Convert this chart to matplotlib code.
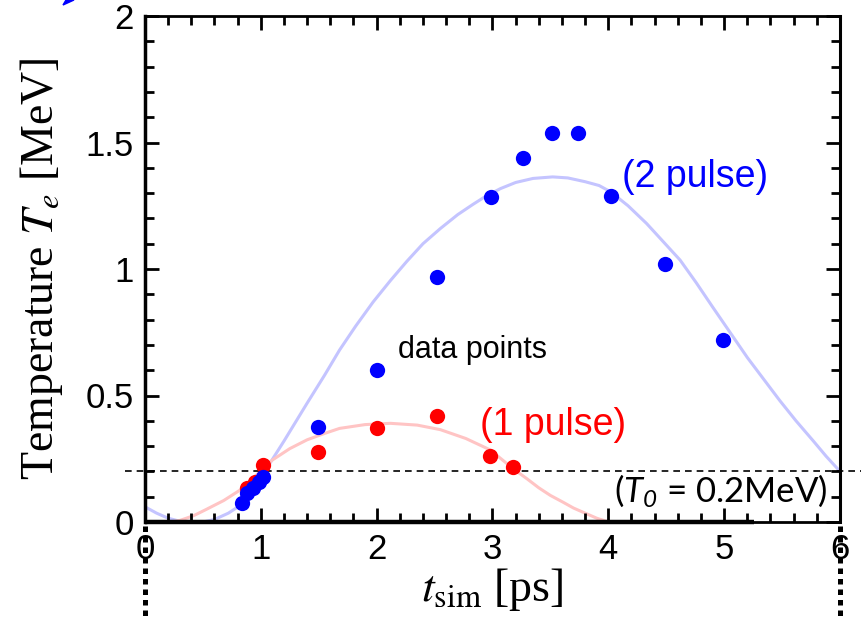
import matplotlib.pyplot as plt
from matplotlib.transforms import blended_transform_factory
from matplotlib.patches import Polygon
from matplotlib.ticker import MultipleLocator

# data points
blue_t = [0.84, 0.88, 0.93, 0.98, 1.02, 1.49, 2.0, 2.52, 2.99, 3.26, 3.51, 3.74, 4.02, 4.49, 4.99]
blue_T = [0.075, 0.115, 0.134, 0.158, 0.178, 0.376, 0.60, 0.97, 1.285, 1.44, 1.537, 1.537, 1.29, 1.02, 0.72]
red_t = [0.88, 0.95, 1.02, 1.49, 2.0, 2.52, 2.98, 3.18]
red_T = [0.134, 0.158, 0.225, 0.277, 0.37, 0.42, 0.26, 0.217]

# faint fit curves
blue_fit_t = [0, 0.1, 0.2, 0.3, 0.45, 0.6, 0.72, 0.82, 0.92, 1.02, 1.2, 1.4, 1.55, 1.68, 1.82, 1.97,
              2.12, 2.26, 2.4, 2.55, 2.7, 2.83, 2.95, 3.07, 3.2, 3.35, 3.52, 3.65, 3.8, 3.92, 4.02,
              4.17, 4.33, 4.47, 4.62, 4.76, 4.9, 5.05, 5.2, 5.34, 5.48, 5.62, 5.77, 5.88, 6.0]
blue_fit_T = [0.06, 0.035, 0.015, 0.003, -0.005, 0.01, 0.035, 0.065, 0.12, 0.19, 0.32, 0.47, 0.58,
              0.68, 0.775, 0.87, 0.955, 1.03, 1.10, 1.16, 1.215, 1.255, 1.29, 1.318, 1.342, 1.358,
              1.364, 1.36, 1.345, 1.33, 1.305, 1.25, 1.18, 1.11, 1.035, 0.945, 0.85, 0.75, 0.65,
              0.565, 0.48, 0.40, 0.32, 0.26, 0.2]
red_fit_t = [0.22, 0.3, 0.42, 0.53, 0.68, 0.82, 0.96, 1.1, 1.25, 1.4, 1.55, 1.68, 1.9, 2.12, 2.35,
             2.55, 2.77, 2.98, 3.18, 3.3, 3.4, 3.5, 3.61, 3.7, 3.8, 3.9, 4.0]
red_fit_T = [0.0, 0.006, 0.025, 0.05, 0.085, 0.126, 0.185, 0.245, 0.29, 0.325, 0.35, 0.37, 0.385,
             0.39, 0.383, 0.365, 0.33, 0.285, 0.21, 0.17, 0.135, 0.105, 0.078, 0.055, 0.035, 0.015, 0.0]

T0 = 0.2
xticks = [0, 1, 2, 3, 4, 5, 6]
yticks = [0, 0.5, 1, 1.5, 2]
ytick_labels = ['0', '0.5', '1', '1.5', '2']

fig = plt.figure(figsize=(8.62, 6.2), dpi=100)
ax = fig.add_axes([145/862, 1-522/620, 695/862, 506/620])

ax.plot(blue_fit_t, blue_fit_T, color='#c4c4ff', lw=2.2, zorder=1)
ax.plot(red_fit_t, red_fit_T, color='#ffc4c4', lw=2.2, zorder=1)
ax.plot(red_t, red_T, 'o', color='#ff0000', ms=11, mec='none', zorder=3)
ax.plot(blue_t, blue_T, 'o', color='#0000ff', ms=11, mec='none', zorder=4)

# T0 dashed line, running past the frame
ax.plot([-0.17, 6.25], [T0, T0], ls=(0, (4, 3)), color='black', lw=1.2, clip_on=False, zorder=2)

ax.set_xlim(0, 6)
ax.set_ylim(0, 2)
ax.set_xticks(xticks)
ax.set_xticklabels([str(v) for v in xticks])
ax.set_yticks(yticks)
ax.set_yticklabels(ytick_labels)
ax.xaxis.set_minor_locator(MultipleLocator(0.2))
ax.yaxis.set_minor_locator(MultipleLocator(0.1))
ax.tick_params(which='both', direction='in', top=True, right=True, width=2,
               labelsize=25, pad=8)
ax.tick_params(which='major', length=10)
ax.tick_params(which='minor', length=6.5)
for lab in ax.get_xticklabels() + ax.get_yticklabels():
    lab.set_family('Liberation Sans')

ax.spines['left'].set_linewidth(2.5)
ax.spines['right'].set_linewidth(2.2)
ax.spines['top'].set_linewidth(2)
ax.spines['bottom'].set_linewidth(2)
# thicker part of the bottom frame
ax.plot([0, 5.26], [0, 0], color='black', lw=3.2, clip_on=False, zorder=5, solid_capstyle='butt')

ax.set_ylabel('Temperature $T_e$ [MeV]', family='Liberation Serif', fontsize=33,
              math_fontfamily='stix')
ax.yaxis.set_label_coords(-0.115, 0.5)
ax.set_xlabel(r'$t_{\rm sim}$ [ps]', family='Liberation Serif', fontsize=33,
              math_fontfamily='stix', labelpad=0)

ax.text(2.18, 0.68, 'data points', fontsize=22, family='Liberation Sans', va='center')
ax.text(4.12, 1.364, '(2 pulse)', fontsize=27, family='Liberation Sans', color='#0000ff', va='center')
ax.text(2.89, 0.383, '(1 pulse)', fontsize=27, family='Liberation Sans', color='#ff0000', va='center')
plt.rcParams['mathtext.fontset'] = 'custom'
plt.rcParams['mathtext.it'] = 'Lato:italic'
plt.rcParams['mathtext.rm'] = 'Lato:italic'
ax.text(5.89, 0.126, r'($T_0$ = 0.2MeV)', fontsize=25, family='Lato', ha='right',
        va='center', math_fontfamily='custom')

# dotted guides below the frame
tr = blended_transform_factory(ax.transData, fig.transFigure)
for xv in [0, 6]:
    ax.plot([xv, xv], [1-526/620, 0], transform=tr, color='black', lw=3.6,
            ls=(0, (1.1, 1.0)), dash_capstyle='butt', clip_on=False, zorder=6)

# little blue arrow tip cut off at top left
fig.patches.append(Polygon([[63/862, 1-5/620], [74/862, 1.0], [66/862, 1.0]], closed=True,
                           transform=fig.transFigure, color='#0000ff'))

fig.savefig('out.png', dpi=100)
